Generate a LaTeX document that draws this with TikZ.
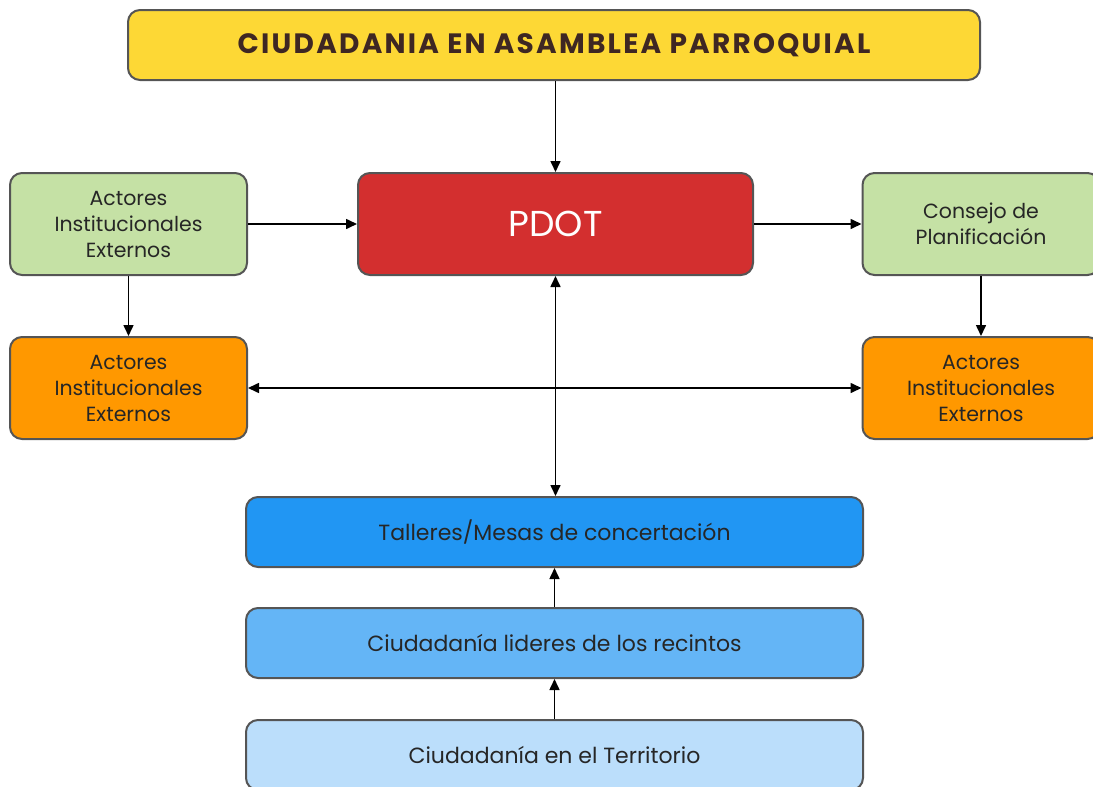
\documentclass[tikz,border=0pt]{standalone}
\usepackage{fontspec}
\setmainfont{Poppins}
\usepackage{tikz}
\usetikzlibrary{arrows.meta}

\definecolor{cyellow}{HTML}{FDD835}
\definecolor{cred}{HTML}{D32F2F}
\definecolor{cgreen}{HTML}{C5E1A5}
\definecolor{corange}{HTML}{FF9800}
\definecolor{cblueA}{HTML}{2196F3}
\definecolor{cblueB}{HTML}{64B5F6}
\definecolor{cblueC}{HTML}{BBDEFB}
\definecolor{cedge}{HTML}{555555}
\definecolor{ctitle}{HTML}{3E2723}

\tikzset{
  caja/.style={draw=cedge, line width=2pt, rounded corners=12pt, align=center,
    inner sep=0pt, text=black!85},
  lateral/.style={caja, minimum width=237pt, minimum height=102pt,
    font=\fontsize{20.5}{26}\selectfont},
  franja/.style={caja, minimum width=617pt, minimum height=70pt,
    font=\fontsize{22}{26}\selectfont},
  flecha/.style={-{Triangle[length=11pt,width=10pt]}, line width=1.6pt},
  doble/.style={{Triangle[length=11pt,width=10pt]}-{Triangle[length=11pt,width=10pt]}, line width=1.6pt}
}

\begin{document}
\begin{tikzpicture}[x=1pt,y=-1pt]
\useasboundingbox (0,0) rectangle (1093,787);
\clip (0,0) rectangle (1093,787);
% cabecera
\node[caja, fill=cyellow, minimum width=852pt, minimum height=70pt, text=ctitle,
  font=\fontsize{28}{30}\bfseries\addfontfeatures{LetterSpace=8}] (asamblea) at (554,45)
  {CIUDADANIA EN ASAMBLEA PARROQUIAL};
\node[caja, fill=cred, minimum width=395pt, minimum height=102pt, text=white,
  font=\fontsize{36}{40}\selectfont] (pdot) at (555.5,224) {PDOT};
% lados
\node[lateral, fill=cgreen] (actoresA) at (128.5,224) {Actores\\Institucionales\\Externos};
\node[lateral, fill=cgreen] (consejo) at (981,224) {Consejo de\\Planificación};
\node[lateral, fill=corange] (actoresB) at (128.5,388) {Actores\\Institucionales\\Externos};
\node[lateral, fill=corange] (actoresC) at (981,388) {Actores\\Institucionales\\Externos};
% base
\node[franja, fill=cblueA] (talleres) at (554.5,532) {Talleres/Mesas de concertación};
\node[franja, fill=cblueB] (lideres) at (554.5,643) {Ciudadanía lideres de los recintos};
\node[franja, fill=cblueC] (territorio) at (554.5,755) {Ciudadanía en el Territorio};
% conexiones
\draw[flecha] (asamblea.south -| pdot.north) -- (pdot.north);
\draw[flecha] (actoresA.east) -- (pdot.west);
\draw[flecha] (pdot.east) -- (consejo.west);
\draw[flecha] (actoresA.south) -- (actoresB.north);
\draw[flecha] (consejo.south) -- (actoresC.north);
\draw[doble] (actoresB.east) -- (actoresC.west);
\draw[doble] (pdot.south) -- (talleres.north -| pdot.south);
\draw[flecha] (lideres.north) -- (talleres.south);
\draw[flecha] (territorio.north) -- (lideres.south);
\end{tikzpicture}
\end{document}
